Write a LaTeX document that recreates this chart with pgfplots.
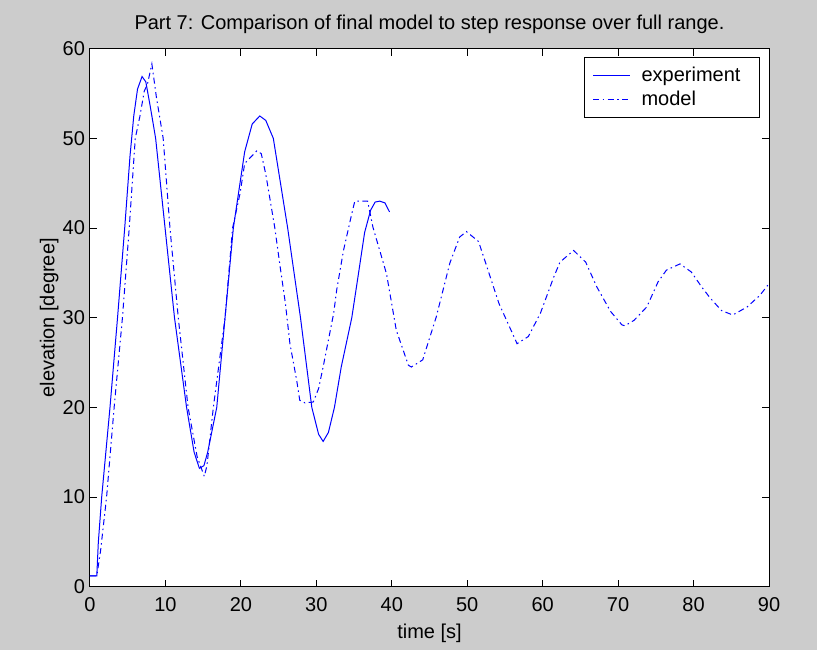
\documentclass[border=0pt]{standalone}
\usepackage{fontspec}
\setmainfont{Liberation Sans}
\usepackage{pgfplots}
\pgfplotsset{compat=1.18}
\definecolor{figbg}{RGB}{204,204,204}
\definecolor{mblue}{RGB}{0,0,255}
\begin{document}
\begin{tikzpicture}[x=1pt,y=1pt]
\fill[figbg] (0,0) rectangle (817,650);
\begin{axis}[
  at={(90pt,63.3pt)}, anchor=south west,
  scale only axis, width=679pt, height=538pt,
  xmin=0, xmax=90, ymin=0, ymax=60,
  xtick={0,10,...,90}, ytick={0,10,...,60},
  tick align=inside, major tick length=7pt,
  axis background/.style={fill=white},
  axis line style={black, line width=1pt},
  every tick/.style={black, line width=1pt},
  /pgf/number format/assume math mode=true,
  tick label style={font=\fontsize{20}{24}\selectfont},
  xticklabel style={anchor=base, yshift=-25.3pt},
  yticklabel style={xshift=-1.5pt},
  title={Part 7: Comparison of final model to step response over full range.},
  title style={font=\fontsize{20}{24}\selectfont, at={(axis description cs:0.5,1.0305)}, anchor=base, yshift=-3pt},
  xlabel={time [s]},
  xlabel style={font=\fontsize{20}{24}\selectfont, at={(axis description cs:0.5,-0.0954)}, anchor=base},
  ylabel={elevation [degree]},
  ylabel style={font=\fontsize{20}{24}\selectfont, at={(axis description cs:-0.0525,0.5)}, anchor=base},
  legend style={at={(axis description cs:0.98675,0.98457)}, anchor=north east,
    draw=black, line width=1pt, fill=white, font=\fontsize{20}{24}\selectfont,
    inner xsep=8pt, inner ysep=8pt, column sep=9pt, row sep=4pt,
    nodes={inner sep=2pt}},
  legend cell align=left,
  legend image code/.code={\draw[#1] (0pt,0pt) -- (37pt,0pt);},
]
\addplot[mblue, line width=1pt] coordinates {
(0,1.2) (0.9,1.2) (1.1,4.9) (1.55,10) (2.65,20) (3.65,30) (4.6,40) (5.3,48)
(5.8,52.5) (6.3,55.5) (6.9,56.9) (7.4,56.3) (8.0,53.5) (8.7,50) (9.95,40)
(11.2,30) (12.8,20) (13.8,15) (14.5,13.2) (15.1,13.5) (15.6,15) (16.8,20)
(17.9,30) (19.0,40) (20.5,48.5) (21.5,51.6) (22.5,52.5) (23.3,52) (24.3,50)
(26.2,40) (27.9,30) (29.4,20) (30.3,17) (30.9,16.2) (31.6,17.2) (32.4,20)
(33.3,24.5) (34.7,30) (35.6,35) (36.4,39.5) (37.2,42) (37.8,42.9) (38.4,43.0)
(39.1,42.8) (39.7,41.8)
};
\addlegendentry{experiment\hspace*{9pt}}
\addplot[mblue, line width=1pt, dash pattern=on 6pt off 3.5pt on 1.5pt off 3.5pt] coordinates {
(0,1.2) (0.9,1.2) (1.4,4) (2.2,10) (3.2,20) (4.3,30)
(5.2,40) (6.0,50) (6.6,52.4) (7.2,55.3) (7.6,56) (8.2,58.3) (8.8,54.6) (9.7,50)
(10.6,40) (11.7,30) (13.0,20) (14.2,14.5) (15.15,12.3) (15.5,13.5) (16.35,20)
(17.9,30) (18.9,40) (19.9,43.9) (20.5,47.2) (22.1,48.6) (22.7,48.3) (23.3,46)
(24.5,40) (25.2,35.7) (25.9,31.6) (26.5,27.1) (27.4,23) (27.8,20.8) (28.5,20.5)
(29.6,20.6) (30.3,22.1) (30.9,24.5) (32.3,30.5) (32.7,33.1) (33.6,37.5)
(34.7,41.6) (35.1,43.0) (36.8,43.0) (37.5,40.1) (39.3,34.9) (40.6,28.6)
(42.2,24.7) (42.6,24.5) (44.1,25.3) (45.9,30.1) (47.7,36.1) (49.0,39)
(49.9,39.6) (51.5,38.5) (52.6,35.7) (54.2,31.6) (56.4,27.5) (56.6,27.1)
(58.1,27.9) (59.7,30.5) (61.5,34.6) (62.3,36.2) (64.1,37.5) (65.7,36.2)
(67.2,33.4) (69.0,30.7) (70.5,29.2) (70.9,29.1) (72.1,29.7) (73.8,31.2)
(75.3,34.0) (76.4,35.3) (78.2,36.0) (79.7,35.1) (81.1,33.4) (82.2,32.2)
(83.7,30.8) (85.2,30.3) (87.1,31.2) (88.8,32.5) (90,33.8)
};
\addlegendentry{model}
\end{axis}
\end{tikzpicture}
\end{document}
